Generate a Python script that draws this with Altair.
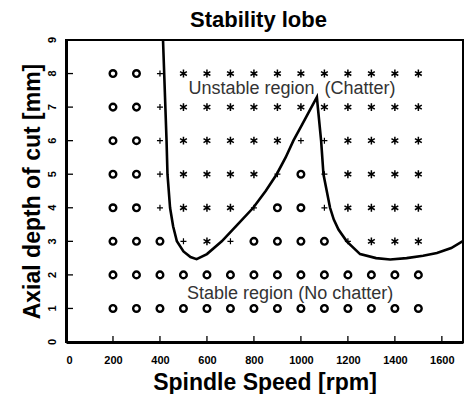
import altair as alt
import pandas as pd

# ---- data -------------------------------------------------------------
speeds = [200, 300, 400, 500, 600, 700, 800, 900, 1000, 1100, 1200, 1300, 1400, 1500]
depths = [8, 7, 6, 5, 4, 3, 2, 1]
row_8 = ["o", "o", "+", "*", "*", "*", "*", "*", "*", "*", "*", "*", "*", "*"]
row_7 = ["o", "o", "+", "*", "*", "*", "*", "*", "*", "*", "*", "*", "*", "*"]
row_6 = ["o", "o", "+", "*", "*", "*", "*", "*", "+", "+", "*", "*", "*", "*"]
row_5 = ["o", "o", "+", "*", "*", "*", "*", "+", "o", "+", "*", "*", "*", "*"]
row_4 = ["o", "o", "+", "*", "*", "*", "+", "o", "o", "+", "*", "*", "*", "*"]
row_3 = ["o", "o", "o", "+", "*", "+", "o", "o", "o", "o", "+", "*", "*", "*"]
row_2 = ["o"] * 14
row_1 = ["o"] * 14
rows = [row_8, row_7, row_6, row_5, row_4, row_3, row_2, row_1]

lobe_rpm = [413, 418, 423, 428, 432, 443, 456, 472, 500, 530, 556, 600, 663, 730,
            797, 850, 897, 935, 968, 1005, 1045, 1068, 1072, 1086, 1096, 1110,
            1124, 1140, 1160, 1195, 1252, 1320, 1380, 1450, 1520, 1579, 1640, 1700]
lobe_depth = [9.0, 8.0, 7.0, 6.0, 5.0, 4.0, 3.45, 3.0, 2.7, 2.53, 2.47, 2.62, 3.0, 3.5,
              4.0, 4.5, 5.0, 5.5, 6.0, 6.48, 7.0, 7.3, 7.0, 6.0, 5.0, 4.5,
              4.0, 3.65, 3.35, 3.0, 2.62, 2.5, 2.46, 2.5, 2.57, 2.65, 2.8, 3.05]

x_ticks = [200, 400, 600, 800, 1000, 1200, 1400, 1600]
x_labels = [0, 200, 400, 600, 800, 1000, 1200, 1400, 1600]
y_ticks = [1, 2, 3, 4, 5, 6, 7, 8]
y_labels = [0, 1, 2, 3, 4, 5, 6, 7, 8, 9]

notes = ["Unstable region \u00a0(Chatter)", "Stable region (No chatter)"]
note_rpm = [962, 954]
note_depth = [7.40, 1.28]

# ---- tables -----------------------------------------------------------
pts = pd.DataFrame(
    [{"rpm": s, "depth": d, "kind": k}
     for d, r in zip(depths, rows) for s, k in zip(speeds, r)]
)
lobe = pd.DataFrame({"rpm": lobe_rpm, "depth": lobe_depth, "order": range(len(lobe_rpm))})
xt = pd.DataFrame({"rpm": x_ticks})
yt = pd.DataFrame({"depth": y_ticks})
yl = pd.DataFrame({"depth": y_labels, "txt": [str(v) for v in y_labels]})
nt = pd.DataFrame({"rpm": note_rpm, "depth": note_depth, "label": notes})

FONT = "Liberation Sans"
W, H = 397, 302

xscale = alt.Scale(domain=[0, 1690], nice=False, zero=False)
yscale = alt.Scale(domain=[0, 9], nice=False, zero=False)

xaxis = alt.Axis(values=x_labels, ticks=False,
                 grid=False, domainColor="black", domainWidth=3, format="d",
                 labelOverlap=False,
                 labelFont=FONT, labelFontSize=11, labelFontWeight="bold",
                 labelColor="black", labelPadding=12,
                 title="Spindle Speed [rpm]", titleFont=FONT, titleFontSize=23,
                 titleFontWeight="bold", titleColor="black", titlePadding=6)
yaxis = alt.Axis(values=y_labels, ticks=False, grid=False, labels=False,
                 domainColor="black", domainWidth=3,
                 title="Axial depth of cut [mm]", titleFont=FONT, titleFontSize=23,
                 titleFontWeight="bold", titleColor="black", titlePadding=22)

base_x = alt.X("rpm:Q", scale=xscale, axis=xaxis)
base_y = alt.Y("depth:Q", scale=yscale, axis=yaxis)

PLUS = "M-1,0L1,0M0,-1L0,1"
STAR = "M0,-1L0,1M-0.87,-0.5L0.87,0.5M-0.87,0.5L0.87,-0.5"

circles = alt.Chart(pts).transform_filter(alt.datum.kind == "o").mark_point(
    shape="circle", filled=False, color="black", strokeWidth=2.4, size=44, opacity=1
).encode(x=base_x, y=base_y)

pluses = alt.Chart(pts).transform_filter(alt.datum.kind == "+").mark_point(
    shape=PLUS, filled=False, color="black", strokeWidth=1.2, size=36, opacity=1
).encode(x="rpm:Q", y="depth:Q")

stars = alt.Chart(pts).transform_filter(alt.datum.kind == "*").mark_point(
    shape=STAR, filled=False, color="black", strokeWidth=1.5, size=62, opacity=1
).encode(x="rpm:Q", y="depth:Q")

curve = alt.Chart(lobe).mark_line(color="black", strokeWidth=2.6, clip=True).encode(
    x="rpm:Q", y="depth:Q", order="order:Q"
)

xtick_marks = alt.Chart(xt).mark_rule(color="black", strokeWidth=1.3).encode(
    x="rpm:Q", y=alt.value(H), y2=alt.value(H - 6)
)
ytick_marks = alt.Chart(yt).mark_rule(color="black", strokeWidth=1.3).encode(
    y="depth:Q", x=alt.value(0), x2=alt.value(7)
)
ytick_labels = alt.Chart(yl).mark_text(
    font=FONT, fontSize=11, fontWeight="bold", color="black", angle=270,
    align="center", baseline="alphabetic"
).encode(y="depth:Q", x=alt.value(-10), text="txt:N")

texts = alt.Chart(nt).mark_text(
    font=FONT, fontSize=18, color="#333333", align="center", baseline="alphabetic"
).encode(x="rpm:Q", y="depth:Q", text="label:N")

chart = alt.layer(
    circles, pluses, stars, curve, xtick_marks, ytick_marks, ytick_labels, texts
).properties(
    width=W, height=H,
    title=alt.TitleParams("Stability lobe", font=FONT, fontSize=22, fontWeight="bold",
                          color="black", anchor="middle", offset=5, dx=-6),
    autosize=alt.AutoSizeParams(type="none"),
    padding={"left": 66, "top": 40, "right": 2, "bottom": 52},
).configure_view(stroke="black", strokeWidth=2)

chart.save("out.html", embed_options={"renderer": "svg", "actions": False})
